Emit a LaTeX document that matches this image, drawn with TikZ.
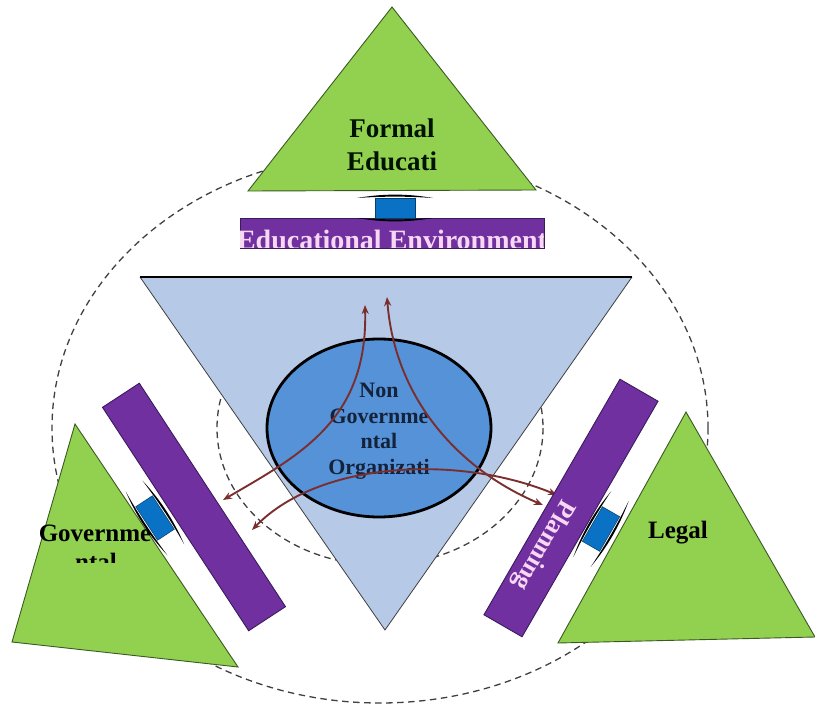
\documentclass[tikz,border=0pt]{standalone}
\usepackage{fontspec}
\setmainfont{Liberation Serif}
\usetikzlibrary{arrows.meta}
\definecolor{lgreen}{HTML}{92D050}
\definecolor{lgreenline}{HTML}{3A5A22}
\definecolor{barpurple}{HTML}{7030A0}
\definecolor{barline}{HTML}{3C1A5E}
\definecolor{connblue}{HTML}{0A72C4}
\definecolor{tribl}{HTML}{B6C9E6}
\definecolor{ngoblue}{HTML}{5592D8}
\definecolor{arrowred}{HTML}{7B2E2E}
\definecolor{dashgray}{HTML}{404040}
\definecolor{pinkw}{HTML}{F6D8F2}
\definecolor{ngotext}{HTML}{14223A}
\tikzset{
  greentri/.style={fill=lgreen, draw=lgreenline, line width=0.9pt, line join=miter},
  barbox/.style={fill=barpurple, draw=barline, line width=0.9pt, rectangle, inner sep=0pt},
  dashring/.style={draw=dashgray, line width=1.3pt, dash pattern=on 6.5pt off 4.5pt},
  flow/.style={draw=arrowred, line width=1.9pt, {Stealth[length=9pt,width=7pt]}-{Stealth[length=9pt,width=7pt]}},
  labeltext/.style={font=\fontsize{25}{30}\selectfont\bfseries, text=black, inner sep=0pt},
  conn/.pic={
    \fill[connblue, draw=connblue!55!black, line width=0.5pt] (-20,-10) rectangle (20,10);
    \fill[black] (-38,-10) .. controls (-12,-14.5) and (12,-14.5) .. (38,-10)
                 .. controls (12,-11.8) and (-12,-11.8) .. cycle;
    \fill[black] (-38,10) .. controls (-12,14.5) and (12,14.5) .. (38,10)
                 .. controls (12,11.8) and (-12,11.8) .. cycle;
  }
}
\begin{document}
\begin{tikzpicture}[x=1pt,y=-1pt]
\useasboundingbox[fill=white] (0,0) rectangle (815,709);

% dashed rings
\draw[dashring] (380,428) ellipse [x radius=328, y radius=275];
\draw[dashring] (380,428) ellipse [x radius=163, y radius=137];

% central inverted triangle
\coordinate (tl) at (140,277);
\coordinate (tr) at (632,277);
\coordinate (tb) at (385,630);
\fill[tribl] (tl) -- (tr) -- (tb) -- cycle;
\draw[draw=black!75, line width=0.8pt] (tr) -- (tb) -- (tl);
\draw[black, line width=1.5pt] (tl) -- (tr);

% NGO ellipse
\draw[fill=ngoblue, draw=black, line width=2.8pt] (379,428) ellipse [x radius=112, y radius=89];
\node[font=\fontsize{22}{25.5}\selectfont\bfseries, text=ngotext, align=center, inner sep=0pt] (ngo) at (379,431) {Non\\Governme\\ntal\\Organizati};

% arrows
\coordinate (a1) at (223,500);
\coordinate (a2) at (365,305);
\coordinate (b1) at (387,297);
\coordinate (b2) at (543,505);
\coordinate (c1) at (252,530);
\coordinate (c2) at (557,495);
\draw[flow] (a1) .. controls (300,455) and (368,420) .. (a2);
\draw[flow] (b1) .. controls (395,400) and (460,470) .. (b2);
\draw[flow] (c1) .. controls (320,460) and (460,455) .. (c2);

% top triangle
\draw[greentri] (392,7) -- (536,190) -- (248,191) -- cycle;
\node[font=\fontsize{27}{33}\selectfont\bfseries, text=black!85!green!50!black, align=center, inner sep=0pt] (formal) at (392,145) {Formal\\Educati};

% top bar
\node[barbox, minimum width=304pt, minimum height=30pt] (edubar) at (392,233) {};
\begin{scope}
  \clip (240.5,218.5) rectangle (543.5,247.5);
  \node[font=\fontsize{28}{30}\selectfont\bfseries, text=pinkw, anchor=base, inner sep=0pt] (edutext) at (392,249) {Educational Environment};
\end{scope}
\pic at (395,208) {conn};

% left green triangle
\draw[greentri] (75,424) -- (238,667) -- (12,642) -- cycle;
\node[labeltext, anchor=base] (gov) at (95,541) {Governme};
\begin{scope}
  \clip (0,500) rectangle (240,562);
  \node[labeltext, anchor=base] (govb) at (96,570) {ntal};
\end{scope}

% left bar
\node[barbox, minimum width=267pt, minimum height=44pt, rotate=-56.8] (govbar) at (194,507) {};
\pic[rotate=-56.8] at (155,518) {conn};

% right green triangle
\draw[greentri] (686,412) -- (815,637) -- (558,643) -- cycle;
\node[labeltext] (legal) at (678,533) {Legal};

% right bar
\node[barbox, minimum width=272pt, minimum height=44pt, rotate=-120] (planbar) at (571,508) {};
\node[font=\fontsize{26}{30}\selectfont\bfseries, text=pinkw, rotate=-120, inner sep=0pt] (plantext) at (543,545) {Planning};
\pic[rotate=-120] at (601,529) {conn};
\end{tikzpicture}
\end{document}
